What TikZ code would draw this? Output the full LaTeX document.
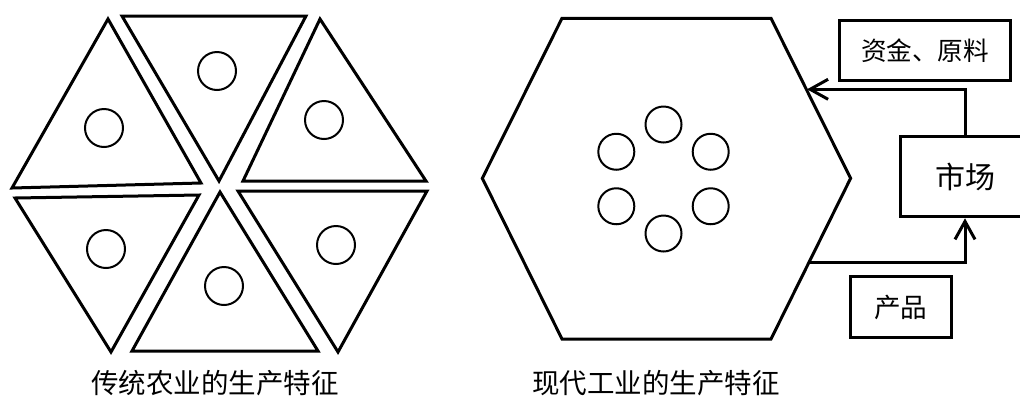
\documentclass[tikz,border=0pt]{standalone}
\usepackage{fontspec}
\newfontfamily\cjk{Noto Sans CJK SC}
\usetikzlibrary{arrows.meta}

\begin{document}
\begin{tikzpicture}[x=0.5pt, y=-0.5pt, line width=1.5pt]
    \tikzstyle{piece}=[draw, line width=1.5pt]
    \tikzstyle{cell}=[circle, draw, line width=1pt, minimum size=19pt, inner sep=0pt]
    \tikzstyle{unit}=[circle, draw, line width=1pt, minimum size=18pt, inner sep=0pt]
    \tikzstyle{box}=[draw, line width=1.5pt, inner sep=0pt]
    \tikzstyle{caption}=[font=\cjk\fontsize{13.75}{16}\selectfont]
    \tikzstyle{flow}=[line width=1.5pt, -{Straight Barb[length=9pt, width=10pt]}]

    \path[use as bounding box, clip] (0,0) rectangle (1020,397);

    % Traditional agriculture: six separate triangles
    \draw[piece] (122,16) -- (306,16) -- (219,181) -- cycle;
    \draw[piece] (108,19) -- (201,183) -- (12,188) -- cycle;
    \draw[piece] (320,19) -- (426,181) -- (243,181) -- cycle;
    \draw[piece] (15,198) -- (199,195) -- (111,352) -- cycle;
    \draw[piece] (220,192) -- (318,351) -- (132,351) -- cycle;
    \draw[piece] (238,191) -- (427,191) -- (338,352) -- cycle;

    \node[cell] (A1) at (217,71) {};
    \node[cell] (A2) at (104,128) {};
    \node[cell] (A3) at (324,120) {};
    \node[cell] (A4) at (106,249) {};
    \node[cell] (A5) at (224,286) {};
    \node[cell] (A6) at (336,245) {};

    \node[caption] (capA) at (215,383) {传统农业的生产特征};

    % Modern industry: one hexagon
    \draw[piece] (482.3,178.3) -- (562,18.3) -- (771,18.3) -- (850.6,178.3)
        -- (771,339) -- (562,339) -- cycle;
    \coordinate (inTip) at (807,89.3);
    \coordinate (outStart) at (809,262.7);

    \foreach \a [count=\i] in {90,30,-30,-90,-150,150}
        \node[unit] (U\i) at ([shift={(\a:54.5)}]663.5,179) {};

    \node[caption] (capB) at (656,383) {现代工业的生产特征};

    % Market and flows
    \node[box, minimum width=85.5pt, minimum height=30pt,
          font=\cjk\fontsize{12.8}{15}\selectfont] (supply) at (925,50.6) {资金、原料};
    \node[box, minimum width=65pt, minimum height=40.3pt,
          font=\cjk\fontsize{15}{18}\selectfont] (market) at (965,176.5) {市场};
    \node[box, minimum width=50.8pt, minimum height=30.3pt,
          font=\cjk\fontsize{13.3}{16}\selectfont] (product) at (900.8,307) {产品};

    \draw[flow] (market.north) |- (inTip);
    \draw[flow] (outStart) -| (market.south);
\end{tikzpicture}
\end{document}
